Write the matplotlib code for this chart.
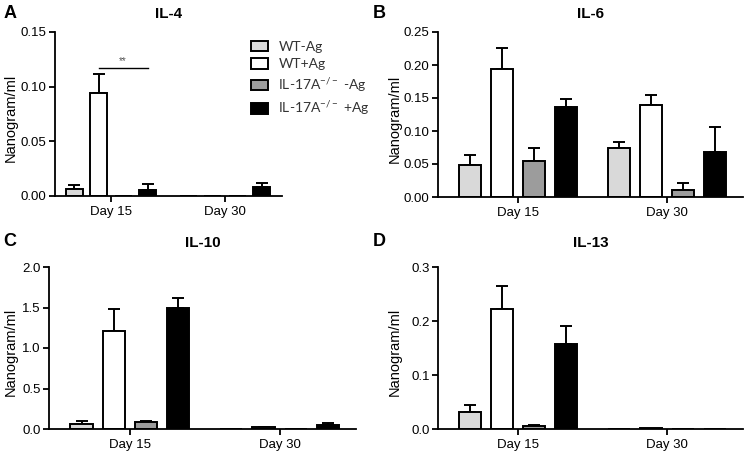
import matplotlib
matplotlib.use("Agg")
import numpy as np
import matplotlib.pyplot as plt
from matplotlib.patches import Patch

plt.rcParams["font.family"] = ["Liberation Sans", "DejaVu Sans"]
plt.rcParams["mathtext.default"] = "regular"

W, H = 747, 453

days = ["Day 15", "Day 30"]
groups = ["WT-Ag", "WT+Ag", "IL-17A$^{-/-}$ -Ag", "IL-17A$^{-/-}$ +Ag"]
colors = ["#d9d9d9", "#ffffff", "#9c9c9c", "#000000"]

# mean per group, [Day 15, Day 30]
il4_mean = [[0.0065, 0.0], [0.094, 0.0], [0.0, 0.0], [0.0055, 0.008]]
il4_err = [[0.0035, 0.0], [0.0176, 0.0], [0.0, 0.0], [0.0055, 0.004]]

il6_mean = [[0.049, 0.074], [0.194, 0.140], [0.055, 0.011], [0.136, 0.068]]
il6_err = [[0.014, 0.0095], [0.032, 0.015], [0.020, 0.010], [0.012, 0.038]]

il10_mean = [[0.062, 0.0], [1.216, 0.025], [0.087, 0.0], [1.49, 0.045]]
il10_err = [[0.041, 0.0], [0.264, 0.005], [0.013, 0.0], [0.13, 0.035]]

il13_mean = [[0.031, 0.0], [0.223, 0.001], [0.0056, 0.0], [0.158, 0.0]]
il13_err = [[0.014, 0.0], [0.042, 0.0], [0.0014, 0.0], [0.033, 0.0]]

panels = [
    # letter, title, means, errs, ymax, yticks, fmt, box(l, r, top, bottom px)
    ("A", "IL-4", il4_mean, il4_err, 0.15, [0, 0.05, 0.10, 0.15], "{:.2f}", (55, 282, 32, 196)),
    ("B", "IL-6", il6_mean, il6_err, 0.25, [0, 0.05, 0.10, 0.15, 0.20, 0.25], "{:.2f}", (438, 743, 32, 197)),
    ("C", "IL-10", il10_mean, il10_err, 2.0, [0, 0.5, 1.0, 1.5, 2.0], "{:.1f}", (49, 356, 267, 429)),
    ("D", "IL-13", il13_mean, il13_err, 0.3, [0, 0.1, 0.2, 0.3], "{:.1f}", (438, 743, 267, 429)),
]

step = 0.215
width = 0.148
offsets = step * (np.arange(4) - 1.5)
xc = np.arange(len(days))

fig = plt.figure(figsize=(W / 100, H / 100), dpi=100)


def fx(px):
    return px / W


def fy(py):
    return 1 - py / H


axes = {}
for letter, title, means, errs, ymax, yticks, fmt, box in panels:
    l, r, t, b = box
    ax = fig.add_axes([fx(l), fy(b), fx(r - l), (b - t) / H])
    axes[letter] = ax
    for i in range(4):
        xs = xc + offsets[i]
        m = np.array(means[i])
        e = np.array(errs[i])
        ax.bar(xs, m, width=width, color=colors[i], edgecolor="black",
               linewidth=1.4, zorder=2)
        keep = e > 0
        if keep.any():
            ax.errorbar(xs[keep], m[keep], yerr=[np.zeros(keep.sum()), e[keep]],
                        fmt="none", ecolor="black", elinewidth=1.4,
                        capsize=4.5, capthick=1.4, zorder=1)
    ax.set_ylim(0, ymax)
    ax.set_yticks(yticks)
    ax.set_yticklabels([fmt.format(v) for v in yticks])
    ax.set_xticks(xc)
    ax.set_xticklabels(days)
    ax.spines["top"].set_visible(False)
    ax.spines["right"].set_visible(False)
    for s in ("left", "bottom"):
        ax.spines[s].set_linewidth(1.3)
    ax.tick_params(axis="both", labelsize=9.5, width=1.3, length=4, pad=2)
    ax.tick_params(axis="x", pad=3)

    # title, panel letter, y label
    top_row = t < 100
    left_col = l < 100
    fig.text(fx((l + r) / 2), fy(14 if top_row else 243), title, fontsize=11,
             fontweight="bold", ha="center", va="center")
    fig.text(fx(10 if left_col else 379), fy(14 if top_row else 242), letter,
             fontsize=13, fontweight="bold", ha="center", va="center")
    fig.text(fx(11 if left_col else 395), fy((t + b) / 2 + 4), "Nanogram/ml",
             fontsize=10.5, rotation=90, ha="center", va="center")

axes["A"].set_xlim(-0.49, 1.5)
for k in ("B", "C", "D"):
    axes[k].set_xlim(-0.54, 1.51)

# significance bar in panel A
axA = axes["A"]
axA.plot([offsets[1], offsets[3]], [0.117, 0.117], color="black", lw=1.0)
axA.text((offsets[1] + offsets[3]) / 2, 0.1185, "**", ha="center", va="bottom",
         fontsize=7, color="#555555")

handles = [Patch(facecolor=c, edgecolor="black", linewidth=1.4) for c in colors]
fig.legend(handles, groups, loc="upper left", bbox_to_anchor=(fx(245), fy(35)),
           frameon=False, handlelength=1.25, handleheight=0.8,
           handletextpad=0.75, labelspacing=0.4, borderaxespad=0,
           prop={"family": ["Lato", "DejaVu Sans"], "size": 10},
           labelcolor="#333333")

fig.savefig("out.png", dpi=100)
